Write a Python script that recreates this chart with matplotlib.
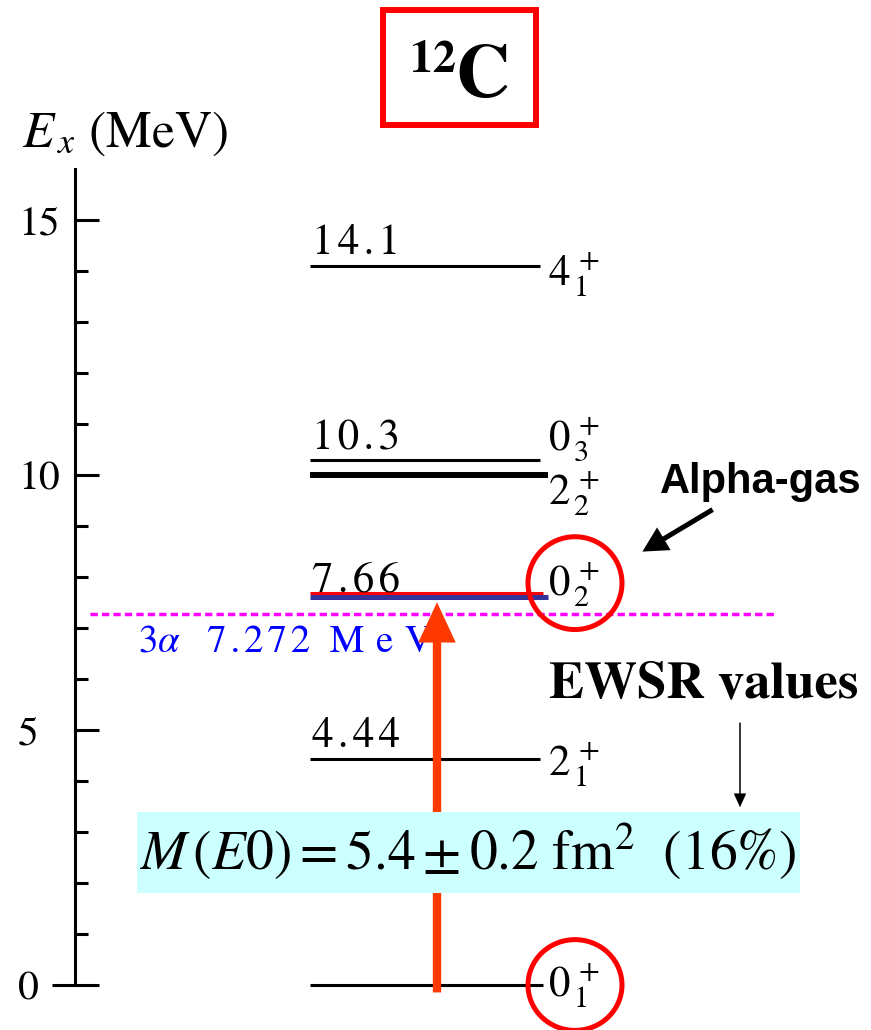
import matplotlib
matplotlib.use('Agg')
import matplotlib.pyplot as plt
from matplotlib.patches import Rectangle, Ellipse, FancyArrowPatch
from matplotlib.transforms import offset_copy

plt.rcParams['font.family'] = ['STIXGeneral', 'DejaVu Serif']
plt.rcParams['mathtext.fontset'] = 'stix'

# 12C excitation energies (MeV)
energies = [0.0, 4.44, 7.66, 10.0, 10.3, 14.1]
energy_text = ['', '4.44', '7.66', '', '10.3', '14.1']
spin = ['0', '2', '0', '2', '0', '4']
spin_n = ['1', '1', '2', '2', '3', '1']
# vertical nudges (points) for the level and spin labels
text_dy = [0, 8, 2, 0, 7, 8.5]
spin_dy = [0, -4, 7, -13, 14, -6]

threshold = 7.272          # 3-alpha threshold
m_e0 = 5.4                 # M(E0) fm^2
m_e0_err = 0.2
ewsr = 16                  # percent

HAIR = '\u200a'


def spaced(s, n=1):
    return (HAIR * n).join(s)


fig = plt.figure(figsize=(8.71, 10.30), dpi=100)
ax = fig.add_axes([0, 0, 1, 1])
ax.set_xlim(0, 871)
ax.set_ylim(-0.882, 19.314)

# energy axis
for s in ['top', 'right', 'bottom']:
    ax.spines[s].set_visible(False)
ax.spines['left'].set_position(('data', 75))
ax.spines['left'].set_bounds(0, 16)
ax.spines['left'].set_linewidth(2.2)
ax.xaxis.set_visible(False)
ax.set_yticks([0, 5, 10, 15])
ax.set_yticks([y for y in range(1, 16) if y % 5], minor=True)
ax.tick_params(axis='y', which='major', direction='in', length=17.3, width=2.2,
               pad=41, labelsize=30)
ax.tick_params(axis='y', which='minor', direction='in', length=9.4, width=2.2)
for lab in ax.get_yticklabels():
    lab.set_ha('left')
ax.plot([52, 75], [0, 0], color='k', lw=2.2, solid_capstyle='butt')

ax.text(22, 16.43, r'$E_{\,x}$ (MeV)', fontsize=37, va='baseline', ha='left')

# title box
ax.add_patch(Rectangle((383, 16.86), 153, 2.26, fill=False, ec='#ff0000', lw=4.3))
ax.text(410, 17.90, '12', fontsize=33, fontweight='bold', va='baseline', ha='left')
ax.text(455, 17.41, 'C', fontsize=54, fontweight='bold', va='baseline', ha='left')

# levels
hoyle = energies[2]
for i, e in enumerate(energies):
    if i == 2:
        ax.plot([310, 548], [e, e], color='#333399', lw=3.6, solid_capstyle='butt',
                transform=offset_copy(ax.transData, fig=fig, y=-2.2, units='points'))
        ax.plot([310, 543], [e, e], color='#ff0000', lw=2.2, solid_capstyle='butt',
                transform=offset_copy(ax.transData, fig=fig, y=1.3, units='points'))
    elif i == 3:
        ax.plot([310, 548], [e, e], color='k', lw=4.3, solid_capstyle='butt')
    else:
        ax.plot([310, 543 if i == 0 else 540], [e, e], color='k', lw=2.2,
                solid_capstyle='butt')
    if energy_text[i]:
        ax.annotate(spaced(energy_text[i]), (312, e), xytext=(0, text_dy[i]),
                    textcoords='offset points', fontsize=31, va='baseline', ha='left')
    ax.annotate(r'$%s^{\,+}_{\,%s}$' % (spin[i], spin_n[i]), (548, e),
                xytext=(0, spin_dy[i]), textcoords='offset points', fontsize=31,
                va='center', ha='left')

# 3 alpha threshold
ax.plot([90, 775], [threshold, threshold], color='#ff00ff', lw=2.5,
        linestyle=(0, (2.1, 1.2)))
ax.text(138, 6.53, r'$3\alpha$', fontsize=28, color='#0000ff', va='baseline', ha='left')
ax.text(207, 6.53, spaced('%.3f' % threshold) + '  ' + spaced('MeV', 3),
        fontsize=28, color='#0000ff', va='baseline', ha='left')

# E0 transition arrow
ax.add_patch(FancyArrowPatch((437, energies[0] - 0.2), (437, hoyle - 0.1),
                             arrowstyle='simple,head_length=29,head_width=27,tail_width=6',
                             mutation_scale=1, color='#ff3a00', lw=0, zorder=3))

# matrix element box
ax.add_patch(Rectangle((137, 1.80), 663, 1.59, color='#ccffff', lw=0, zorder=4))
ax.text(468, 2.62, r'$M\,(E0) = %.1f \pm %.1f\ \mathrm{fm}^{2}\ \ (%d\%%)$'
        % (m_e0, m_e0_err, ewsr), fontsize=40, ha='center', va='center', zorder=5)

ax.text(704, 5.88, 'EWSR values', fontsize=38, fontweight='bold', ha='center', va='center')
ax.add_patch(FancyArrowPatch((740, 5.2), (740, 3.43),
                             arrowstyle='simple,head_length=10,head_width=9,tail_width=1.1',
                             mutation_scale=1, color='k', lw=0))

ax.text(761, 9.86, 'Alpha-gas', fontsize=30, fontweight='bold', family='Liberation Sans',
        ha='center', va='center')
ax.add_patch(FancyArrowPatch((715, 9.35), (640, 8.47),
                             arrowstyle='simple,head_length=18,head_width=19,tail_width=3.6',
                             mutation_scale=1, color='k', lw=0))

# circled 0+ states
ax.add_patch(Ellipse((575, 7.88), 94, 1.82, fill=False, ec='#ff0000', lw=3.6, zorder=6))
ax.add_patch(Ellipse((575, 0.0), 94, 1.78, fill=False, ec='#ff0000', lw=3.6, zorder=6))

fig.savefig('out.png', dpi=100)
